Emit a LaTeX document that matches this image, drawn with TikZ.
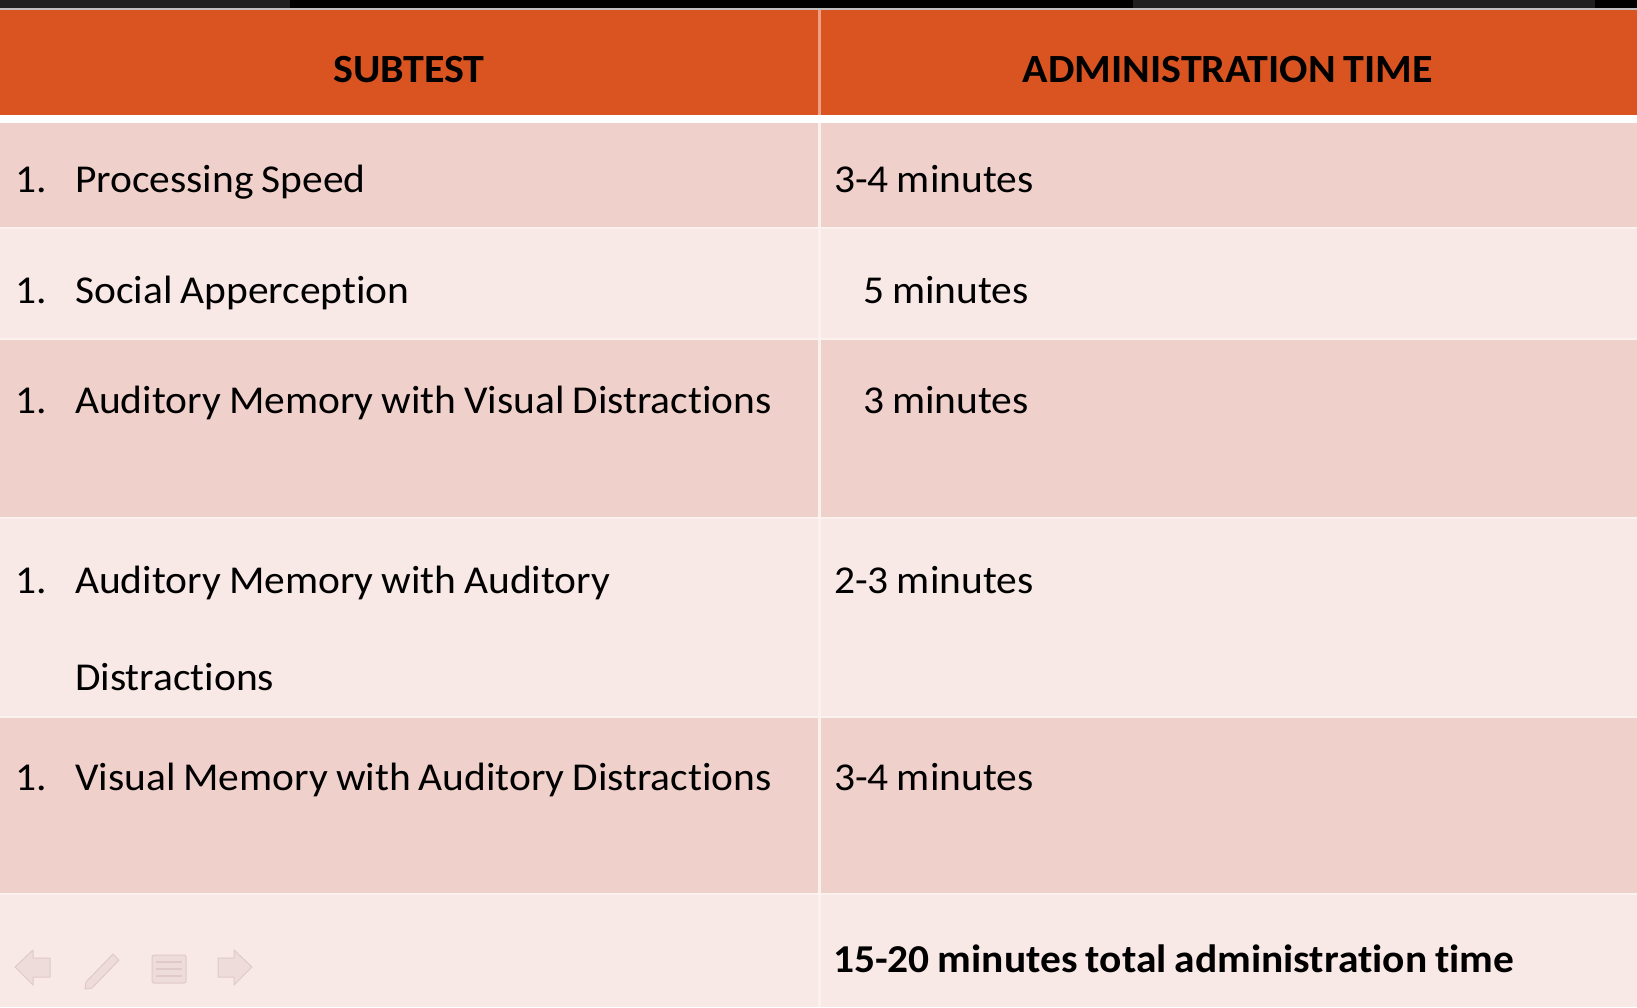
\documentclass[tikz,border=0pt]{standalone}
\usepackage{fontspec}
\setmainfont{Carlito}[FakeStretch=1.05, Ligatures=NoCommon, WordSpace=0.85]
\definecolor{hdr}{HTML}{DA5421}
\definecolor{rowdark}{HTML}{F0D0CB}
\definecolor{rowlight}{HTML}{F8E8E6}
\definecolor{sepline}{HTML}{FBF1EF}
\definecolor{iconfill}{HTML}{EDDCDA}
\definecolor{iconedge}{HTML}{E0CAC8}
\tikzset{
  body/.style={anchor=base west, inner sep=0pt, font=\fontsize{39.5}{40}\selectfont, text=black},
  bodybold/.style={body, font=\fontsize{39.5}{40}\selectfont\bfseries},
  headtxt/.style={anchor=base, inner sep=0pt, font=\fontsize{40}{40}\selectfont\bfseries, text=black},
  icon/.style={fill=iconfill, draw=iconedge, line width=1pt, line join=round}
}
\begin{document}
\begin{tikzpicture}[x=1pt,y=-1pt]
\useasboundingbox (0,0) rectangle (1637,1007);
% top strip
\fill[black] (0,0) rectangle (1637,9);
\fill[black!88] (0,0) rectangle (290,8);
\fill[black!88] (1133,0) rectangle (1595,8);
\fill[white!75!black] (0,8) rectangle (1637,9.5);
% header
\fill[hdr] (0,9.5) rectangle (1637,115);
\fill[white] (0,115) rectangle (1637,123);
% rows
\fill[rowdark]  (0,123) rectangle (1637,228);
\fill[rowlight] (0,228) rectangle (1637,339);
\fill[rowdark]  (0,339) rectangle (1637,518);
\fill[rowlight] (0,518) rectangle (1637,717);
\fill[rowdark]  (0,717) rectangle (1637,894);
\fill[rowlight] (0,894) rectangle (1637,1007);
% separators
\foreach \yy in {228,339,518,717,894} \fill[sepline] (0,\yy-1.2) rectangle (1637,\yy+1.2);
\fill[white, opacity=0.45] (818,9.5) rectangle (820.5,115);
\fill[sepline] (818,123) rectangle (820.5,1007);
% header text
\node[headtxt] (h1) at (409,82) {SUBTEST};
\node[headtxt] (h2) at (1228,82) {ADMINISTRATION TIME};
% left column
\node[body] (n1) at (15,192) {1.};
\node[body] (t1) at (75,192) {Processing Speed};
\node[body] (n2) at (15,303) {1.};
\node[body] (t2) at (75,303) {Social Apperception};
\node[body] (n3) at (15,413) {1.};
\node[body] (t3) at (75,413) {Auditory Memory with Visual Distractions};
\node[body] (n4) at (15,593) {1.};
\node[body] (t4) at (75,593) {Auditory Memory with Auditory};
\node[body] (t4b) at (75,690) {Distractions};
\node[body] (n5) at (15,790) {1.};
\node[body] (t5) at (75,790) {Visual Memory with Auditory Distractions};
% right column
\node[body] (r1) at (834,192) {3-4 minutes};
\node[body] (r2) at (863,303) {5 minutes};
\node[body] (r3) at (863,413) {3 minutes};
\node[body] (r4) at (834,593) {2-3 minutes};
\node[body] (r5) at (834,790) {3-4 minutes};
\node[bodybold] (r6) at (833,972) {15-20 minutes total administration time};
% faint navigation icons
\draw[icon] (15,967) -- (33,950) -- (33,958) -- (50,958) -- (50,977) -- (33,977) -- (33,985) -- cycle;
\draw[icon] (252,967) -- (234,950) -- (234,958) -- (218,958) -- (218,977) -- (234,977) -- (234,985) -- cycle;
\draw[icon] (113,954) -- (119,960) -- (92,988) -- (85,989) -- (86,982) -- cycle;
\draw[icon, rounded corners=2pt] (152,955) rectangle (186,983);
\foreach \yy in {962,969,976} \draw[iconedge, line width=1.5pt] (156,\yy) -- (182,\yy);
\end{tikzpicture}
\end{document}
